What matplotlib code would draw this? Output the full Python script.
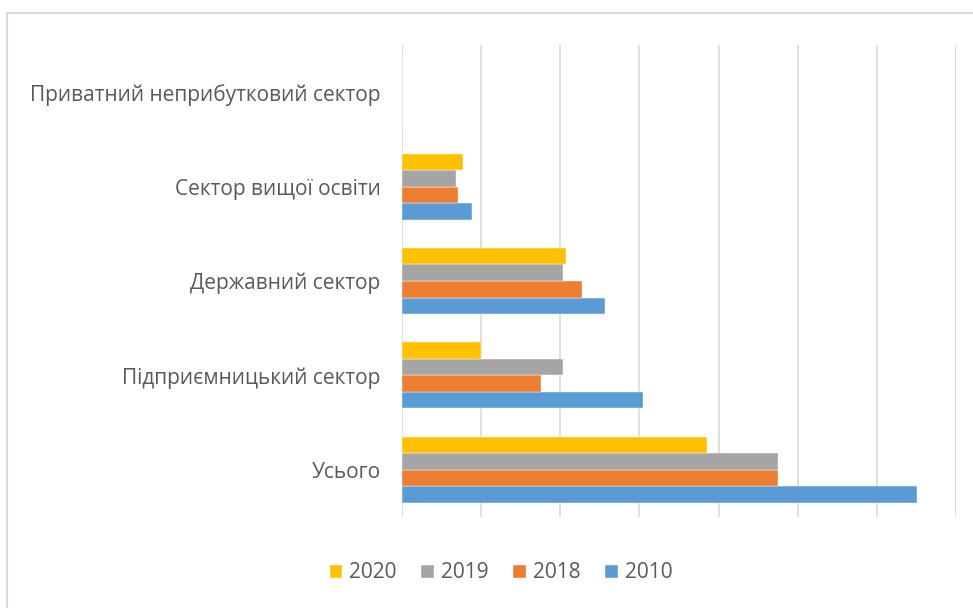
import matplotlib
matplotlib.use("Agg")
import matplotlib.pyplot as plt
from matplotlib.patches import Rectangle
import numpy as np

plt.rcParams['font.family'] = ['Open Sans', 'DejaVu Sans']

categories = ["Усього", "Підприємницький сектор", "Державний сектор",
              "Сектор вищої освіти", "Приватний неприбутковий сектор"]
years = ["2010", "2018", "2019", "2020"]
values_2010 = [6.51, 3.04, 2.57, 0.88, 0.0]
values_2018 = [4.75, 1.75, 2.28, 0.71, 0.0]
values_2019 = [4.75, 2.04, 2.04, 0.68, 0.0]
values_2020 = [3.85, 1.00, 2.07, 0.77, 0.0]
series = [values_2010, values_2018, values_2019, values_2020]
colors = ["#5B9BD5", "#ED7D31", "#A5A5A5", "#FFC000"]

fig = plt.figure(figsize=(9.73, 6.08), dpi=100)
ax = fig.add_axes([402/973, 1-517/608, (956-402)/973, (517-45)/608])

y = np.arange(len(categories))
h = 0.175
handles = []
for i, (vals, c, yr) in enumerate(zip(series, colors, years)):
    b = ax.barh(y + (i - 1.5) * h, vals, height=h, color=c, label=yr,
                edgecolor="white", linewidth=0.3, zorder=3)
    handles.append(b)

ax.set_xlim(0, 7)
ax.set_ylim(-0.5, len(categories) - 0.5)
ax.set_xticks(np.arange(0, 8, 1))
ax.set_xticklabels([])
ax.set_yticks(y)
ax.set_yticklabels(categories, fontsize=15, color="#595959")
ax.tick_params(axis="y", length=0, pad=15.5)
ax.tick_params(axis="x", length=0)
ax.grid(axis="x", color="#d9d9d9", linewidth=1.2, zorder=0)
for s in ax.spines.values():
    s.set_visible(False)

leg = fig.legend(handles=handles[::-1], labels=years[::-1], loc="center",
                 bbox_to_anchor=(501/973, 1-573/608), ncol=4, frameon=False,
                 fontsize=15, handlelength=0.6, handleheight=0.6,
                 columnspacing=1.2, handletextpad=0.33)
for t in leg.get_texts():
    t.set_color("#595959")

fig.patches.append(Rectangle((7/973, -0.05), 1.1, 1.05 - 13/608,
                             transform=fig.transFigure, fill=False,
                             edgecolor="#d9d9d9", linewidth=1.5))

fig.savefig("out.png", dpi=100)
